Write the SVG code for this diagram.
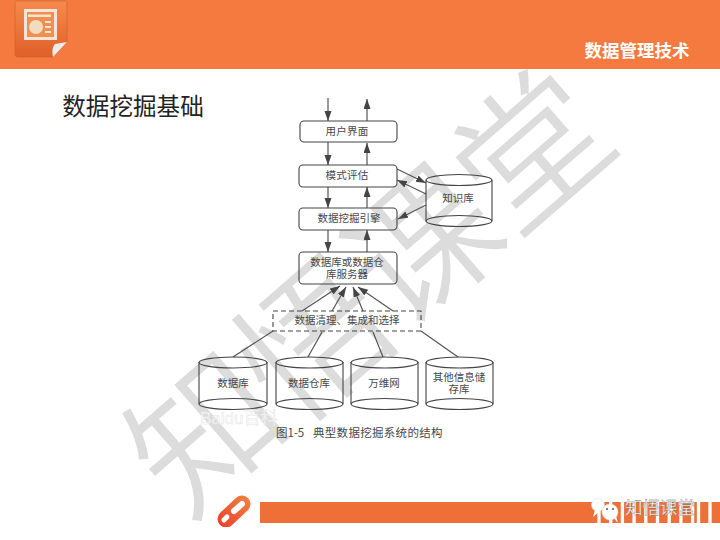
<svg xmlns="http://www.w3.org/2000/svg" width="720" height="540" viewBox="0 0 720 540">
<defs>
<marker id="ah" markerUnits="userSpaceOnUse" markerWidth="11" markerHeight="9" refX="10" refY="3.500" orient="auto"><path d="M0,0 L10,3.500 L0,7 Z" fill="#444"/></marker>
<linearGradient id="ic" x1="0" y1="0" x2="0" y2="1"><stop offset="0" stop-color="#f58b4c"/><stop offset="1" stop-color="#e0602a"/></linearGradient>
<linearGradient id="pen" gradientUnits="userSpaceOnUse" x1="220" y1="527" x2="248" y2="497"><stop offset="0" stop-color="#e8402c"/><stop offset="1" stop-color="#f2803f"/></linearGradient>
<clipPath id="penclip"><rect x="210" y="490" width="50" height="37"/></clipPath>
</defs>
<style>
.t{font-family:"Noto Sans CJK SC","Liberation Sans",sans-serif;fill:#484848;font-size:10.500px;text-anchor:middle}
.box{fill:none;stroke:#444;stroke-width:1.100}
.cyl{fill:none;stroke:#444;stroke-width:1.100}
.c line{stroke:#555;stroke-width:1.200;marker-end:url(#ah)}
.c line.p{marker-end:none}
.wm{font-family:"Noto Sans CJK SC",sans-serif;font-size:148px;fill:#dcdcdc;stroke:#fff;stroke-width:1.500px;text-anchor:middle}
</style>
<rect width="720" height="540" fill="#fff"/>
<g id="watermark">
<text class="wm" y="55" transform="translate(205,432) rotate(-41)">知</text>
<text class="wm" y="55" transform="translate(313,340) rotate(-41)">悟</text>
<text class="wm" y="55" transform="translate(422,245) rotate(-41)">课</text>
<text class="wm" y="55" transform="translate(532,150) rotate(-41)">堂</text>
</g>
<rect width="720" height="69" fill="#f47a3f"/>
<g id="ppt-icon">
<path d="M17,1 H65 Q67,1 67,3 V42 L53,57 H18 Q15,57 15,54 V3 Q15,1 17,1 Z" fill="url(#ic)" stroke="#c9602f" stroke-width=".6"/>
<path d="M67,42 L53,57 Q51,48 55,44 Z" fill="#ececec"/>
<rect x="24" y="9" width="33" height="31" fill="#f3e6d8"/>
<rect x="27" y="12" width="27" height="25" fill="#f09050"/>
<rect x="28" y="14.500" width="23" height="2.500" fill="#f7e5d2"/>
<circle cx="36" cy="27" r="7" fill="#f3dcc0"/>
<rect x="45" y="21" width="6" height="2" fill="#f7e5d2"/><rect x="45" y="26" width="6" height="2" fill="#f7e5d2"/><rect x="45" y="31" width="6" height="2" fill="#f7e5d2"/>
</g>
<text id="header-title" x="637" y="57" style="font-family:'Noto Sans CJK SC',sans-serif;font-weight:700;font-size:17.500px;fill:#fff;text-anchor:middle">数据管理技术</text>
<text id="title" x="133" y="115" style="font-family:'Noto Sans CJK SC',sans-serif;font-size:23.600px;fill:#222;text-anchor:middle">数据挖掘基础</text>
<g id="connectors" class="c">
<line x1="328" y1="98" x2="328" y2="121"/><line x1="367" y1="121" x2="367" y2="99"/>
<line x1="328" y1="142" x2="328" y2="165"/><line x1="367" y1="165" x2="367" y2="143"/>
<line x1="328" y1="187" x2="328" y2="208"/><line x1="367" y1="208" x2="367" y2="187"/>
<line x1="328" y1="230" x2="328" y2="252"/><line x1="367" y1="252" x2="367" y2="230"/>
<line x1="397" y1="169" x2="426" y2="183"/><line x1="426" y1="194" x2="397" y2="180"/><line x1="426" y1="205" x2="398" y2="219"/>
<line x1="302" y1="311" x2="340" y2="286"/><line x1="332" y1="311" x2="346" y2="287"/><line x1="363" y1="311" x2="353" y2="287"/><line x1="393" y1="311" x2="358" y2="287"/>
<line class="p" x1="273" y1="331" x2="233" y2="357"/><line class="p" x1="322" y1="332" x2="308" y2="357"/><line class="p" x1="373" y1="332" x2="383" y2="357"/><line class="p" x1="421" y1="331" x2="458" y2="357"/>
</g>
<g id="n1"><rect class="box" x="300" y="121" width="97" height="21" rx="4"/><text class="t" x="347" y="135" letter-spacing=".3">用户界面</text></g>
<g id="n2"><rect class="box" x="299" y="165" width="98" height="22" rx="4"/><text class="t" x="347" y="179" letter-spacing=".3">模式评估</text></g>
<g id="n3"><rect class="box" x="299" y="208" width="98" height="22" rx="4"/><text class="t" x="349" y="222">数据挖掘引擎</text></g>
<g id="n4"><rect class="box" x="299" y="252" width="98" height="32" rx="4"/><text class="t" y="266"><tspan x="347">数据库或数据仓</tspan><tspan x="347" dy="11.500">库服务器</tspan></text></g>
<g id="n5"><rect x="273" y="311" width="148" height="20" fill="none" stroke="#444" stroke-width="1.100" stroke-dasharray="5 3"/><text class="t" x="347" y="324">数据清理、集成和选择</text></g>
<g id="kb"><path class="cyl" d="M426,180 V221"/><path class="cyl" d="M492,180 V221"/><ellipse class="cyl" cx="459" cy="180" rx="33" ry="5.500"/><ellipse class="cyl" cx="459" cy="221" rx="33" ry="5.500"/><text class="t" x="458" y="202">知识库</text></g>
<g id="db1"><path class="cyl" d="M199,362 V404 M267,362 V404"/><ellipse class="cyl" cx="233" cy="362.500" rx="34" ry="5.500"/><ellipse class="cyl" cx="233" cy="404" rx="34" ry="5.500"/><text class="t" x="233" y="387">数据库</text></g>
<g id="db2"><path class="cyl" d="M276,362 V404 M343,362 V404"/><ellipse class="cyl" cx="309.500" cy="362.500" rx="33.500" ry="5.500"/><ellipse class="cyl" cx="309.500" cy="404" rx="33.500" ry="5.500"/><text class="t" x="309" y="387">数据仓库</text></g>
<g id="db3"><path class="cyl" d="M351,362 V404 M418,362 V404"/><ellipse class="cyl" cx="384.500" cy="362.500" rx="33.500" ry="5.500"/><ellipse class="cyl" cx="384.500" cy="404" rx="33.500" ry="5.500"/><text class="t" x="384" y="387">万维网</text></g>
<g id="db4"><path class="cyl" d="M426,362 V404 M493,362 V404"/><ellipse class="cyl" cx="459.500" cy="362.500" rx="33.500" ry="5.500"/><ellipse class="cyl" cx="459.500" cy="404" rx="33.500" ry="5.500"/><text class="t" y="380.500"><tspan x="459">其他信息储</tspan><tspan x="459" dy="12.500">存库</tspan></text></g>
<text id="baidu" x="200" y="424" style="font-family:'Liberation Sans','Noto Sans CJK SC',sans-serif;font-size:17px;fill:#fff;fill-opacity:.7;stroke:#e6e6e6;stroke-width:.5">Baidu百科</text>
<text id="caption" x="276" y="436.500" style="font-family:'Noto Sans CJK SC',sans-serif;font-size:11.500px;fill:#484848">图1-5<tspan x="313" letter-spacing=".3">典型数据挖掘系统的结构</tspan></text>
<g id="footer">
<rect x="260" y="502" width="460" height="21" fill="#ee7038"/>
<path d="M599,523 V502 M610.700,523 V502 M622.400,523 V502 M634.100,523 V502 M645.800,523 V502 M657.500,523 V502 M669.200,523 V502 M680.900,523 V502 M692.600,523 V502 M698.500,523 V502 M710,523 V502" stroke="#fff" stroke-width="3.300"/>
<g clip-path="url(#penclip)">
<path d="M226,519 L242,504" stroke="url(#pen)" stroke-width="17" stroke-linecap="round" fill="none"/>
<path d="M234,511 L242,504" stroke="#fff" stroke-width="6" stroke-linecap="round" fill="none"/>
<path d="M224,520 L227,517" stroke="#fff" stroke-width="5" stroke-linecap="round" fill="none"/>
</g>
</g>
<g id="wechat-mark">
<circle cx="598" cy="505" r="6.500" fill="#fff" stroke="#ddd" stroke-width=".5"/>
<path d="M595,510 L593,517 L600,511 Z" fill="#fff"/>
<circle cx="610" cy="512" r="8" fill="#fff" stroke="#ddd" stroke-width=".5"/>
<path d="M614,518 L618,523 L616,516 Z" fill="#fff"/>
<circle cx="607" cy="509" r="1" fill="#555"/><circle cx="613" cy="509" r="1" fill="#555"/>
</g>
<text id="brand" x="660" y="514" style="font-family:'Noto Sans CJK SC',sans-serif;font-size:17.500px;fill:#fff;stroke:#666;stroke-width:.3;text-anchor:middle">知悟课堂</text>
</svg>
